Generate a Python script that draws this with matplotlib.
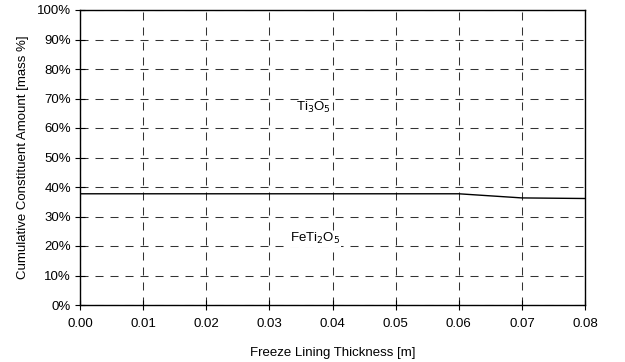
import matplotlib
matplotlib.use("Agg")
import matplotlib.pyplot as plt
from matplotlib.ticker import FuncFormatter

plt.rcParams['font.family'] = ['Liberation Sans', 'DejaVu Sans']

thickness = [0.00, 0.01, 0.02, 0.03, 0.04, 0.05, 0.06, 0.07, 0.08]
feti2o5 = [37.7, 37.7, 37.7, 37.7, 37.7, 37.7, 37.7, 36.3, 36.1]

fig = plt.figure(figsize=(6.25, 3.62), dpi=100)
ax = fig.add_axes([80/625, 1-305/362, (585-80)/625, (305-10)/362])

ax.plot(thickness, feti2o5, color='black', lw=1.0, zorder=3)
ax.set_xlim(0, 0.08)
ax.set_ylim(0, 100)
ax.set_xticks([i*0.01 for i in range(9)])
ax.set_yticks(range(0, 101, 10))
ax.xaxis.set_major_formatter(FuncFormatter(lambda v, p: f"{v:.2f}"))
ax.yaxis.set_major_formatter(FuncFormatter(lambda v, p: f"{v:.0f}%"))
ax.grid(True, color='#333333', linestyle=(0, (7.7, 6.7)), lw=0.75)
ax.tick_params(direction='inout', length=7, width=0.8, labelsize=9.5)
ax.tick_params(axis='x', pad=6)
ax.tick_params(axis='y', pad=3)
for s in ax.spines.values():
    s.set_linewidth(1.0)

bbox = dict(facecolor='white', edgecolor='none', pad=0.5)
ax.text(0.0369, 66.8, 'Ti$_3$O$_5$', ha='center', va='center', fontsize=9.5, bbox=bbox, zorder=4)
ax.text(0.0373, 22.4, 'FeTi$_2$O$_5$', ha='center', va='center', fontsize=9.5, bbox=bbox, zorder=4)

ax.set_xlabel('Freeze Lining Thickness [m]', fontsize=9.5, labelpad=12)
ax.set_ylabel('Cumulative Constituent Amount [mass %]', fontsize=9.5, labelpad=6)

fig.savefig('out.png', dpi=100)
